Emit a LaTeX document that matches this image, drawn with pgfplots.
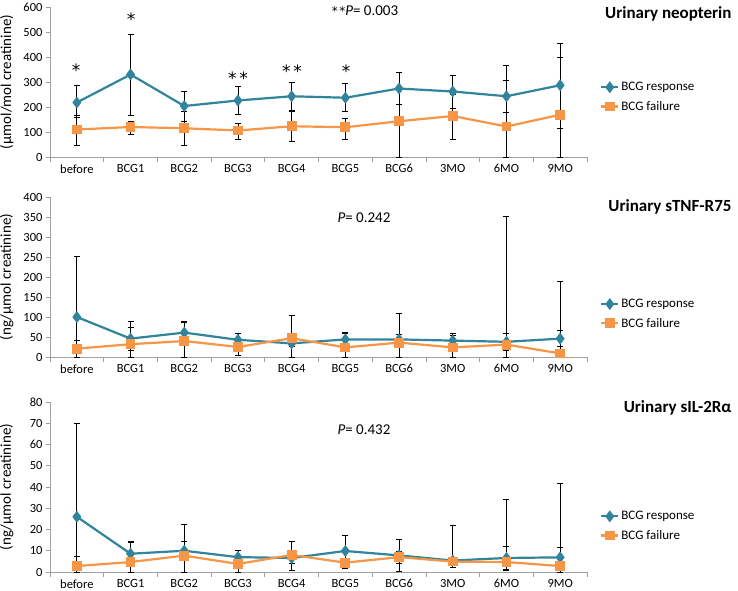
\documentclass[border=0pt]{standalone}
\usepackage{pgfplots}
\pgfplotsset{compat=1.18}
\usepackage{pgfplotstable}
\usepackage{fontspec}
\setmainfont{Carlito}
\newfontfamily\starfont{DejaVu Sans}
\definecolor{resp}{HTML}{31849B}
\definecolor{fail}{HTML}{F79646}

\pgfplotstableread{
x y ep em
0 218 67 60
1 330 161 165
2 204 60 61
3 226 55 57
4 243 55 55
5 237 57 54
6 274 65 65
7 262 64 67
8 243 65 64
9 287 168 171
}\neoR
\pgfplotstableread{
x y ep em
0 110 58 65
1 120 23 31
2 115 67 67
3 106 27 34
4 123 60 60
5 119 37 47
6 143 66 143
7 164 85 92
8 122 246 122
9 169 230 169
}\neoF
\pgfplotstableread{
x y ep em
0 100 151 100
1 46 44 30
2 61 29 29
3 43 16 16
4 34 7 7
5 44 17 17
6 44 12 12
7 41 18 18
8 38 21 21
9 46 21 20
}\tnfR
\pgfplotstableread{
x y ep em
0 21 21 21
1 32 43 32
2 40 47 40
3 25 20 20
4 47 57 47
5 24 34 24
6 36 74 36
7 24 30 24
8 31 321 31
9 9 181 9
}\tnfF
\pgfplotstableread{
x y ep em
0 26 44 26
1 8.6 6 6
2 10 4.6 4.5
3 7 3 3
4 6.6 2.4 2.4
5 9.9 7.1 7.1
6 7.8 7.6 7.6
7 5.4 1.2 1.2
8 6.6 5.5 5.5
9 6.9 4.7 4.7
}\ilR
\pgfplotstableread{
x y ep em
0 2.8 4.4 2.8
1 4.7 9.1 4.7
2 7.7 14.6 7.7
3 3.8 3.8 3.8
4 8 6.6 7.2
5 4.4 1.9 2.7
6 7 2.9 2.9
7 4.9 16.8 2.5
8 4.7 29.7 4.1
9 2.8 38.7 2.8
}\ilF

\pgfplotsset{
  panel/.style={
    scale only axis, width=537bp,
    xmin=-0.5, xmax=9.5,
    axis x line*=bottom, axis y line*=left,
    axis line style={gray!75, line width=0.8bp},
    xtick={0,...,9},
    xticklabels={before,BCG1,BCG2,BCG3,BCG4,BCG5,BCG6,3MO,6MO,9MO},
    major x tick style={draw=none},
    minor xtick={-0.5,0.5,...,9.5},
    minor x tick style={gray!75, line width=0.8bp},
    y tick style={gray!75, line width=0.8bp},
    tick align=outside,
    major tick length=4bp, minor tick length=5bp,
    ticklabel style={font=\fontsize{12.5bp}{14bp}\selectfont, black},
    /pgf/number format/assume math mode=true,
    every axis y label/.style={at={(axis description cs:0,0.5)}, xshift=-33bp, rotate=90, anchor=south, font=\fontsize{15bp}{16bp}\selectfont},
    legend cell align=left,
    legend style={draw=none, fill=none, anchor=west, xshift=10bp, font=\fontsize{13bp}{14bp}\selectfont, row sep=5bp},
  },
  rline/.style={resp, line width=2.2bp, mark=diamond*, mark size=4.2bp, mark options={resp, solid}},
  fline/.style={fail, line width=2.2bp, mark=square*, mark size=3.8bp, mark options={fail, solid}},
  eb/.style={error bars/.cd, y dir=both, y explicit,
    error bar style={black, line width=0.8bp},
    error mark options={rotate=90, mark size=3bp, black, line width=0.8bp}},
}

\begin{document}
\begin{tikzpicture}
\useasboundingbox (0,0) rectangle (738bp,-591bp);

% ---------- top panel
\begin{axis}[panel, at={(50bp,-157bp)}, anchor=south west, height=150bp,
  ymin=0, ymax=600, ytick={0,100,...,600},
  ylabel={(µmol/mol creatinine)},
  legend style={at={(1,0.40)}}]
\addplot[rline, eb] table[x=x, y=y, y error plus=ep, y error minus=em] {\neoR};
\addlegendentry{BCG response}
\addplot[fline, eb] table[x=x, y=y, y error plus=ep, y error minus=em] {\neoF};
\addlegendentry{BCG failure}
\end{axis}

% ---------- middle panel
\begin{axis}[panel, at={(50bp,-357bp)}, anchor=south west, height=160bp,
  ymin=0, ymax=400, ytick={0,50,...,400},
  ylabel={(ng/µmol creatinine)},
  legend style={at={(1,0.27)}}]
\addplot[rline, eb] table[x=x, y=y, y error plus=ep, y error minus=em] {\tnfR};
\addlegendentry{BCG response}
\addplot[fline, eb] table[x=x, y=y, y error plus=ep, y error minus=em] {\tnfF};
\addlegendentry{BCG failure}
\end{axis}

% ---------- bottom panel
\begin{axis}[panel, at={(50bp,-572bp)}, anchor=south west, height=170bp,
  ymin=0, ymax=80, ytick={0,10,...,80},
  ylabel={(ng/µmol creatinine)},
  legend style={at={(1,0.27)}}]
\addplot[rline, eb] table[x=x, y=y, y error plus=ep, y error minus=em] {\ilR};
\addlegendentry{BCG response}
\addplot[fline, eb] table[x=x, y=y, y error plus=ep, y error minus=em] {\ilF};
\addlegendentry{BCG failure}
\end{axis}

% titles
\node[anchor=east, font=\bfseries\fontsize{17bp}{19bp}\selectfont] at (735bp,-14bp) {Urinary neopterin};
\node[anchor=east, font=\bfseries\fontsize{17bp}{19bp}\selectfont] at (735bp,-207bp) {Urinary sTNF-R75};
\node[anchor=east, font=\bfseries\fontsize{17bp}{19bp}\selectfont] at (735bp,-408bp) {Urinary sIL-2Rα};

% P values
\node[font=\fontsize{15bp}{17bp}\selectfont] at (365bp,-11bp) {{\starfont\fontsize{12bp}{14bp}\selectfont*\kern1.5bp*}\textit{P}= 0.003};
\node[font=\fontsize{15bp}{17bp}\selectfont] at (364bp,-218bp) {\textit{P}= 0.242};
\node[font=\fontsize{15bp}{17bp}\selectfont] at (364bp,-430bp) {\textit{P}= 0.432};

% significance stars
\begin{scope}[every node/.style={font=\starfont\fontsize{17bp}{19bp}\selectfont, inner sep=0pt}]
\node at (76bp,-70bp) {*};
\node at (131bp,-19bp) {*};
\node at (238bp,-78bp) {*\kern3bp*};
\node at (292bp,-71bp) {*\kern3bp*};
\node at (346bp,-71bp) {*};
\end{scope}
\end{tikzpicture}
\end{document}
